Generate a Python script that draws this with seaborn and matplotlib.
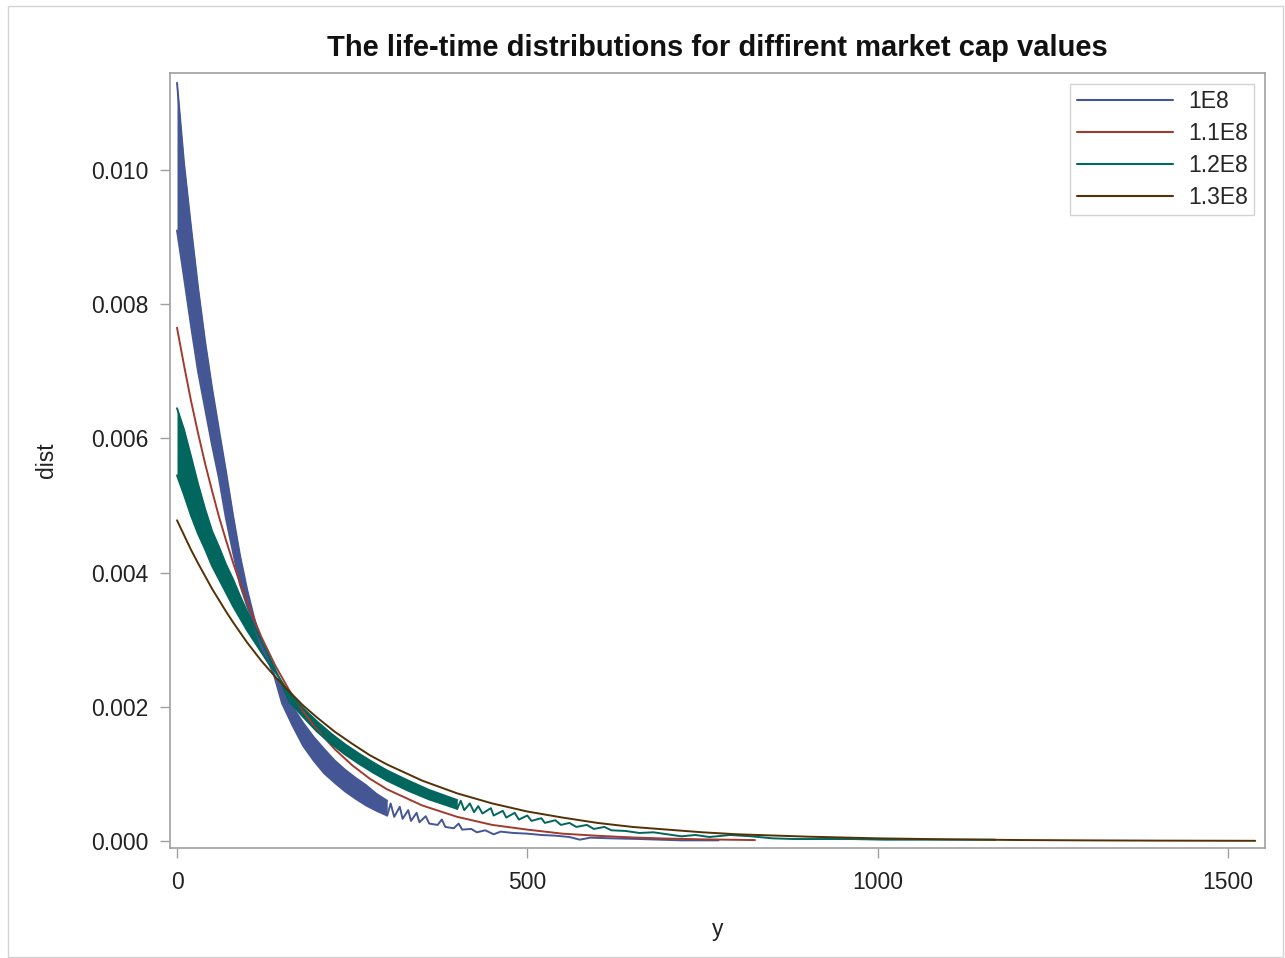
import matplotlib
matplotlib.use("Agg")
import matplotlib.pyplot as plt
from matplotlib.lines import Line2D
from matplotlib.patches import Rectangle
import seaborn as sns

# ---- data: life-time density by market cap ----
labels = ["1E8", "1.1E8", "1.2E8", "1.3E8"]
colors = ["#445694", "#A23A2E", "#01665E", "#543005"]

# 1E8: the series swings between two envelopes
blue_x = [0, 10, 20, 30, 40, 50, 60, 70, 80, 90, 100, 110, 120, 138, 150, 165,
          180, 195, 210, 225, 240, 255, 270, 285, 300]
blue_hi = [0.01130, 0.01010, 0.00915, 0.00825, 0.00745, 0.00675, 0.00612, 0.00550,
           0.00485, 0.00425, 0.00375, 0.00333, 0.00297, 0.00249, 0.00228, 0.00200,
           0.00176, 0.00155, 0.00137, 0.00120, 0.00106, 0.00094, 0.00083, 0.00070, 0.00060]
blue_lo = [0.00910, 0.00840, 0.00768, 0.00700, 0.00645, 0.00590, 0.00540, 0.00480,
           0.00430, 0.00382, 0.00350, 0.00320, 0.00290, 0.00249, 0.00205, 0.00172,
           0.00142, 0.00120, 0.00101, 0.00087, 0.00074, 0.00063, 0.00053, 0.00045, 0.00038]
blue_tail_x = [300, 305, 310, 318, 322, 330, 334, 342, 346, 355, 360, 372, 378, 383,
               395, 402, 407, 420, 428, 440, 452, 462, 480, 500, 520, 540, 560, 575,
               590, 620, 660, 690, 720, 773]
blue_tail_v = [0.00038, 0.00056, 0.00036, 0.00051, 0.00033, 0.00046, 0.00030, 0.00042,
               0.00028, 0.00037, 0.00026, 0.00024, 0.00032, 0.00021, 0.00019, 0.00026,
               0.00017, 0.00018, 0.00013, 0.00016, 0.00010, 0.00014, 0.00012, 0.00011,
               0.00009, 0.00008, 0.00006, 0.00002, 0.00005, 0.00004, 0.00003, 0.00002,
               0.00001, 0.00001]

# 1.1E8
red_x = [0, 10, 20, 30, 40, 50, 60, 70, 80, 90, 100, 120, 140, 160, 180, 200, 225,
         250, 275, 300, 350, 400, 450, 500, 550, 600, 650, 700, 750, 825]
red_v = [0.00765, 0.00709, 0.00656, 0.00608, 0.00563, 0.00522, 0.00483, 0.00448,
         0.00415, 0.00384, 0.00356, 0.00305, 0.00262, 0.00225, 0.00193, 0.00166,
         0.00137, 0.00113, 0.00093, 0.00077, 0.00053, 0.00036, 0.00024, 0.00017,
         0.00011, 0.000078, 0.000053, 0.000036, 0.000025, 0.000014]

# 1.2E8: banded like 1E8
green_x = [0, 10, 20, 30, 40, 50, 60, 70, 80, 90, 100, 115, 130, 145, 160, 180, 200,
           220, 240, 260, 280, 300, 330, 360, 400]
green_hi = [0.00645, 0.00613, 0.00573, 0.00532, 0.00495, 0.00462, 0.00438, 0.00412,
            0.00390, 0.00365, 0.00342, 0.00310, 0.00278, 0.00245, 0.00220, 0.00198,
            0.00178, 0.00160, 0.00144, 0.00130, 0.00117, 0.00105, 0.00090, 0.00076, 0.00061]
green_lo = [0.00545, 0.00516, 0.00485, 0.00458, 0.00435, 0.00410, 0.00390, 0.00370,
            0.00350, 0.00332, 0.00314, 0.00290, 0.00266, 0.00245, 0.00208, 0.00185,
            0.00163, 0.00145, 0.00129, 0.00115, 0.00102, 0.00090, 0.00075, 0.00062, 0.00048]
green_tail_x = [400, 405, 410, 418, 424, 430, 436, 448, 452, 465, 470, 482, 488, 500,
                506, 520, 525, 540, 548, 560, 570, 585, 595, 610, 620, 640, 660, 680,
                700, 720, 740, 760, 790, 820, 850, 880, 960, 1010, 1168]
green_tail_v = [0.00048, 0.00060, 0.00046, 0.00056, 0.00043, 0.00052, 0.00041, 0.00049,
                0.00038, 0.00045, 0.00035, 0.00042, 0.00032, 0.00038, 0.00030, 0.00034,
                0.00027, 0.00031, 0.00024, 0.00027, 0.00021, 0.00024, 0.00018, 0.00021,
                0.00016, 0.00015, 0.00012, 0.00013, 0.00010, 0.00007, 0.00009, 0.00006,
                0.00009, 0.00007, 0.00004, 0.00003, 0.00003, 0.00002, 0.00002]

# 1.3E8
brown_x = [0, 10, 20, 30, 40, 50, 60, 70, 80, 90, 100, 120, 140, 160, 180, 200, 225,
           250, 275, 300, 350, 400, 450, 500, 550, 600, 650, 700, 750, 800, 900, 1000,
           1100, 1200, 1300, 1400, 1539]
brown_v = [0.00478, 0.00456, 0.00434, 0.00414, 0.00395, 0.00376, 0.00359, 0.00342,
           0.00326, 0.00311, 0.00296, 0.00269, 0.00245, 0.00223, 0.00202, 0.00184,
           0.00163, 0.00145, 0.00128, 0.00114, 0.00090, 0.00071, 0.00056, 0.00044,
           0.00035, 0.00027, 0.00021, 0.00017, 0.00013, 0.00010, 0.000065, 0.00004,
           0.000025, 0.000015, 0.0000096, 0.000006, 0.000003]

x_ticks = [0, 500, 1000, 1500]
y_ticks = [0.000, 0.002, 0.004, 0.006, 0.008, 0.010]

# ---- styling ----
sns.set_theme(style="white")
plt.rcParams["font.family"] = ["Liberation Sans", "DejaVu Sans"]

W, H = 1285, 958
fig = plt.figure(figsize=(W / 100, H / 100), dpi=100)
ax = fig.add_axes([170 / W, 1 - 848 / H, 1095 / W, 775 / H])

LW = 1.4
FS = 16.5


def band(xs, hi, lo, color):
    ax.fill_between(xs, lo, hi, color=color, lw=0)
    sns.lineplot(x=xs, y=hi, color=color, lw=LW, ax=ax, estimator=None, sort=False)
    sns.lineplot(x=xs, y=lo, color=color, lw=LW, ax=ax, estimator=None, sort=False)


def line(xs, vs, color):
    sns.lineplot(x=xs, y=vs, color=color, lw=LW, ax=ax, estimator=None, sort=False)


band(blue_x, blue_hi, blue_lo, colors[0])
line(blue_tail_x, blue_tail_v, colors[0])
line(red_x, red_v, colors[1])
band(green_x, green_hi, green_lo, colors[2])
line(green_tail_x, green_tail_v, colors[2])
line(brown_x, brown_v, colors[3])

ax.set_xlim(-10, 1553)
ax.set_ylim(-0.000104, 0.011446)
ax.set_xticks(x_ticks)
ax.set_xticklabels([str(t) for t in x_ticks])
ax.set_yticks(y_ticks)
ax.set_yticklabels([f"{t:.3f}" for t in y_ticks])

frame_col = "#a0a0a0"
for s in ax.spines.values():
    s.set_color(frame_col)
    s.set_linewidth(1.2)
ax.tick_params(axis="both", which="major", direction="out", length=7.5, width=1.0,
               color=frame_col, labelsize=FS, labelcolor="#222222",
               bottom=True, left=True)
ax.tick_params(axis="y", pad=8)
ax.tick_params(axis="x", pad=9)

ax.set_xlabel("y", fontsize=FS, color="#222222", labelpad=17)
ax.set_ylabel("dist", fontsize=FS, color="#222222", labelpad=24)
ax.set_title("The life-time distributions for diffirent market cap values",
             fontsize=21, fontweight="bold", color="#111111", pad=12)

handles = [Line2D([0], [0], color=c, lw=1.5) for c in colors]
leg = ax.legend(handles, labels, loc="upper right", bbox_to_anchor=(0.99, 0.986),
                borderaxespad=0, fontsize=FS, handlelength=4.2, handletextpad=0.65,
                labelspacing=0.39, frameon=True, fancybox=False, borderpad=0.28)
leg.get_frame().set_edgecolor("#c8c8c8")
leg.get_frame().set_linewidth(1.0)

# outer border of the graph
fig.add_artist(Rectangle((8 / W, 1 / H), 1275 / W, 951 / H, transform=fig.transFigure,
                         fill=False, edgecolor="#d4d4d4", lw=1.0))

fig.savefig("out.png", dpi=100, facecolor="white")
